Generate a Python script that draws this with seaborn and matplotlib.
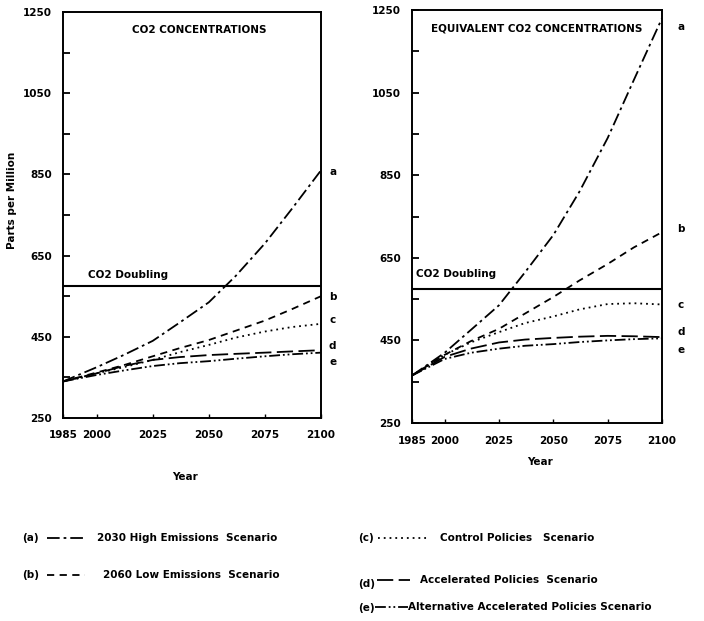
import numpy as np
import pandas as pd
import matplotlib
matplotlib.use("Agg")
import matplotlib.pyplot as plt
from matplotlib.lines import Line2D
from matplotlib.transforms import blended_transform_factory
import seaborn as sns

# ---- data -------------------------------------------------------------
years = [1985, 2000, 2012, 2025, 2037, 2050, 2062, 2075, 2087, 2100]

# CO2 concentrations (ppm)
co2_a = [340, 375, 405, 440, 485, 535, 600, 680, 765, 860]
co2_b = [340, 362, 380, 402, 422, 442, 465, 490, 518, 550]
co2_c = [340, 360, 375, 393, 412, 430, 448, 463, 474, 482]
co2_d = [340, 360, 378, 393, 400, 405, 408, 411, 414, 417]
co2_e = [340, 356, 367, 378, 385, 390, 396, 402, 407, 411]

# Equivalent CO2 concentrations (ppm)
eq_a = [365, 420, 475, 535, 615, 705, 810, 940, 1080, 1230]
eq_b = [365, 415, 448, 478, 515, 555, 595, 635, 675, 712]
eq_c = [365, 415, 445, 470, 492, 508, 525, 538, 540, 537]
eq_d = [365, 410, 430, 445, 452, 456, 459, 461, 460, 458]
eq_e = [365, 405, 420, 430, 437, 441, 446, 450, 453, 455]

scenarios = ["a", "b", "c", "d", "e"]
scenario_names = [
    "2030 High Emissions  Scenario",
    "2060 Low Emissions  Scenario",
    "Control Policies   Scenario",
    "Accelerated Policies  Scenario",
    "Alternative Accelerated Policies Scenario",
]
panel_titles = ["CO2 CONCENTRATIONS", "EQUIVALENT CO2 CONCENTRATIONS"]
doubling_ppm = 575
y_ticks = [250, 450, 650, 850, 1050, 1250]
y_minor = [350, 550, 750, 950, 1150]
x_ticks = [1985, 2000, 2025, 2050, 2075, 2100]

# end-of-curve letter positions (ppm)
co2_letter_y = [856, 548, 491, 427, 388]
eq_letter_y = [1209, 720, 536, 470, 427]

# ---- long-form table --------------------------------------------------
rows = []
for panel, series in (("co2", [co2_a, co2_b, co2_c, co2_d, co2_e]),
                      ("eq", [eq_a, eq_b, eq_c, eq_d, eq_e])):
    for key, vals in zip(scenarios, series):
        for yr, v in zip(years, vals):
            rows.append({"panel": panel, "scenario": key, "year": yr, "ppm": v})
df = pd.DataFrame(rows)

dash_map = {
    "a": (7, 2.2, 1.5, 2.2),
    "b": (4, 3),
    "c": (1, 2.2),
    "d": (9, 3),
    "e": (6, 1.6, 1, 1.6, 1, 1.6),
}

# ---- figure -----------------------------------------------------------
sns.set_theme(style="white")
plt.rcParams["font.family"] = ["DejaVu Sans"]
plt.rcParams["font.weight"] = "bold"
for k in ("text.color", "axes.labelcolor", "xtick.color", "ytick.color"):
    plt.rcParams[k] = "black"

W, H = 704, 621
fig = plt.figure(figsize=(W / 100, H / 100), dpi=100)


def px_axes(x0, y0, x1, y1):
    return fig.add_axes([x0 / W, 1 - y1 / H, (x1 - x0) / W, (y1 - y0) / H])


ax_left = px_axes(63, 12, 321, 418)
ax_right = px_axes(412, 10, 662, 423)

lw = 1.3
fs = 7.5

for ax, panel, title, letter_y, title_xy, letter_x, dbl_xy in (
    (ax_left, "co2", panel_titles[0], co2_letter_y, (0.53, 0.955), 1.045, (1996, 602)),
    (ax_right, "eq", panel_titles[1], eq_letter_y, (0.50, 0.955), 1.075, (1987, 610)),
):
    sub = df[df["panel"] == panel]
    sns.lineplot(data=sub, x="year", y="ppm", style="scenario",
                 style_order=scenarios, dashes=dash_map, color="black",
                 linewidth=lw, legend=False, estimator=None, sort=True, ax=ax)
    ax.axhline(doubling_ppm, color="black", linewidth=1.5)

    ax.set_xlim(1985, 2100)
    ax.set_ylim(250, 1250)
    ax.set_xticks(x_ticks)
    ax.set_xticklabels([str(t) for t in x_ticks], fontsize=fs, fontweight="bold")
    ax.set_yticks(y_ticks)
    ax.set_yticklabels([str(t) for t in y_ticks], fontsize=fs, fontweight="bold")
    ax.set_yticks(y_minor, minor=True)
    ax.tick_params(axis="y", which="both", direction="in", length=5, width=1.3,
                   left=True, pad=8, colors="black")
    ax.tick_params(axis="x", which="major", direction="in", length=3, width=1.0,
                   bottom=True, pad=9, colors="black")
    ax.set_xlabel("")
    ax.set_ylabel("")
    for s in ax.spines.values():
        s.set_visible(True)
        s.set_color("black")
        s.set_linewidth(1.4)

    ax.text(title_xy[0], title_xy[1], title, transform=ax.transAxes,
            ha="center", va="center", fontsize=fs, fontweight="bold")
    ax.text(dbl_xy[0], dbl_xy[1], "CO2 Doubling", ha="left", va="center",
            fontsize=fs, fontweight="bold")

    tr = blended_transform_factory(ax.transAxes, ax.transData)
    for key, ly in zip(scenarios, letter_y):
        ax.text(letter_x, ly, key, transform=tr, ha="center", va="center",
                fontsize=fs, fontweight="bold", clip_on=False)

fig.text(12 / W, 1 - 200 / H, "Parts per Million", rotation=90, ha="center",
         va="center", fontsize=fs, fontweight="bold")
fig.text(185 / W, 1 - 477 / H, "Year", ha="center", va="center",
         fontsize=fs, fontweight="bold")
fig.text(540 / W, 1 - 462 / H, "Year", ha="center", va="center",
         fontsize=fs, fontweight="bold")

# ---- key below the panels ----------------------------------------------
key_layout = [
    # tag x, tag y, line x0, line x1, text x, text y
    (22, 538, 47, 84, 97, 538),
    (22, 575, 47, 85, 103, 575),
    (358, 538, 378, 428, 440, 538),
    (358, 584, 377, 410, 420, 580),
    (358, 608, 375, 408, 408, 607),
]
for key, name, (tx, ty, lx0, lx1, nx, ny) in zip(scenarios, scenario_names, key_layout):
    fig.text(tx / W, 1 - ty / H, f"({key})", ha="left", va="center",
             fontsize=fs, fontweight="bold")
    fig.add_artist(Line2D([lx0 / W, lx1 / W], [1 - ny / H, 1 - ny / H],
                          transform=fig.transFigure, color="black",
                          linewidth=lw, dashes=dash_map[key]))
    fig.text(nx / W, 1 - ny / H, name, ha="left", va="center",
             fontsize=fs, fontweight="bold")

fig.savefig("out.png", dpi=100, facecolor="white")
